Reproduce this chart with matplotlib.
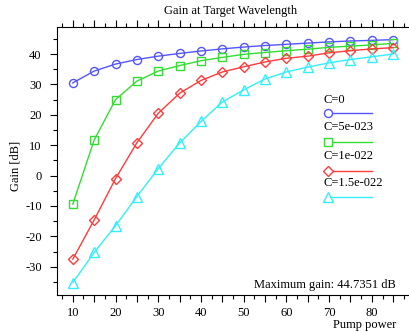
import numpy as np
import matplotlib
matplotlib.use("Agg")
import matplotlib.pyplot as plt
from matplotlib.ticker import MultipleLocator, FuncFormatter

# data
pump = [10, 15, 20, 25, 30, 35, 40, 45, 50, 55, 60, 65, 70, 75, 80, 85]
gain_c0 = [30.5, 34.4, 36.7, 38.2, 39.3, 40.2, 41.0, 41.7, 42.3, 42.8, 43.2, 43.6, 44.0, 44.3, 44.5, 44.74]
gain_c5e23 = [-9.4, 11.7, 25.0, 31.1, 34.4, 36.2, 37.8, 38.9, 39.9, 40.5, 41.1, 41.6, 42.2, 42.6, 43.0, 43.5]
gain_c1e22 = [-27.5, -14.6, -1.0, 10.8, 20.5, 27.1, 31.3, 34.1, 35.8, 37.4, 38.6, 39.3, 40.4, 41.1, 41.7, 42.1]
gain_c15e22 = [-35.2, -25.3, -16.5, -6.9, 2.3, 10.7, 17.8, 24.2, 28.2, 31.8, 34.1, 35.7, 37.1, 38.2, 39.1, 40.0]
labels = ["C=0", "C=5e-023", "C=1e-022", "C=1.5e-022"]

KLEUREN = ["#5555ff", "#33dd33", "#ff3b3b", "#33eeff"]
MARKERS = ["o", "s", "D", "^"]
MSIZES = [5.8, 5.5, 5.2, 6.5]
FS = 9

plt.rcParams["font.family"] = ["Liberation Serif", "DejaVu Serif"]
plt.rcParams["font.size"] = FS
plt.rcParams["axes.unicode_minus"] = False

fig = plt.figure(figsize=(4.09, 3.32), dpi=100)
ax = fig.add_axes([57 / 409, 1 - 295 / 332, 1 - 57 / 409, (295 - 27.3) / 332])

series = [gain_c0, gain_c5e23, gain_c1e22, gain_c15e22]
for vals, kleur, m, ms in zip(series, KLEUREN, MARKERS, MSIZES):
    ax.plot(pump, vals, color=kleur, lw=1.0, marker=m, ms=ms,
            markerfacecolor="none", markeredgecolor=kleur, markeredgewidth=1.0,
            clip_on=False)

ax.set_xlim(6.3, 88.7)
ax.set_ylim(-39.3, 48.8)

ax.spines["right"].set_visible(False)
for s in ["left", "bottom", "top"]:
    ax.spines[s].set_linewidth(0.8)

ax.xaxis.set_major_locator(MultipleLocator(5))
ax.xaxis.set_minor_locator(MultipleLocator(2.5))
ax.xaxis.set_major_formatter(FuncFormatter(lambda v, p: f"{int(v)}" if v % 10 == 0 else ""))
ax.yaxis.set_major_locator(MultipleLocator(10))
ax.yaxis.set_minor_locator(MultipleLocator(5))

ax.tick_params(axis="x", which="both", direction="out", top=True, bottom=True,
               labeltop=False, labelsize=FS, pad=4)
ax.tick_params(axis="x", which="major", length=5, width=0.8)
ax.tick_params(axis="x", which="minor", length=3, width=0.8)
ax.tick_params(axis="y", which="both", direction="out", left=True, right=False, labelsize=FS)
ax.tick_params(axis="y", which="major", length=5, width=0.8, pad=6)
ax.tick_params(axis="y", which="minor", length=3, width=0.8)

fig.text(0.563, 0.968, "Gain at Target Wavelength", ha="center", va="center", fontsize=FS)
fig.text(0.037, 0.5, "Gain [dB]", rotation=90, ha="center", va="center", fontsize=FS)
fig.text(0.97, 0.021, "Pump power", ha="right", va="center", fontsize=FS)
fig.text(0.968, 0.142, "Maximum gain: 44.7351 dB", ha="right", va="center", fontsize=FS)

# legend: label above, marker + line below
tekst_y = [100, 127, 156, 183]
lijn_y = [113, 142, 170.7, 197.3]
for lab, kleur, m, ms, ty, ly in zip(labels, KLEUREN, MARKERS, MSIZES, tekst_y, lijn_y):
    fig.text(323 / 409, 1 - ty / 332, lab, ha="left", va="center", fontsize=FS)
    fig.lines.append(plt.Line2D([328 / 409, 372 / 409], [1 - ly / 332, 1 - ly / 332],
                                transform=fig.transFigure, color=kleur, lw=1.0))
    fig.lines.append(plt.Line2D([328 / 409], [1 - ly / 332], transform=fig.transFigure,
                                marker=m, ms=ms, markerfacecolor="white",
                                markeredgecolor=kleur, markeredgewidth=1.0, lw=0))

fig.savefig("out.png", dpi=100)
